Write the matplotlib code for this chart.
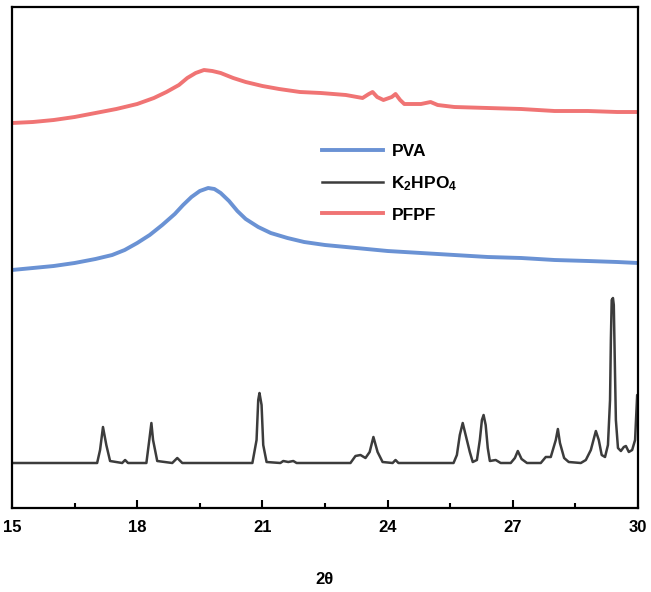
import matplotlib
matplotlib.use('Agg')
from matplotlib import pyplot as plt
from matplotlib.ticker import MultipleLocator

plt.rcParams['font.family'] = ['Liberation Sans', 'DejaVu Sans']
plt.rcParams['font.weight'] = 'bold'
plt.rcParams['mathtext.fontset'] = 'custom'
plt.rcParams['mathtext.bf'] = 'Liberation Sans:bold'
plt.rcParams['mathtext.rm'] = 'Liberation Sans:bold'
plt.rcParams['mathtext.default'] = 'bf'

# PVA (amorphous hump), 2theta vs intensity (a.u.)
pva_2theta = [15.0, 15.5, 16.0, 16.5, 17.0, 17.4, 17.7, 18.0, 18.3, 18.6,
              18.9, 19.1, 19.3, 19.5, 19.7, 19.85, 20.0, 20.2, 20.4, 20.6,
              20.9, 21.2, 21.6, 22.0, 22.5, 23.0, 23.5, 24.0, 24.8, 25.6,
              26.4, 27.2, 28.0, 28.8, 29.5, 30.0]
pva_int = [238, 240, 242, 245, 249, 253, 258, 265, 273, 283,
           294, 303, 311, 317, 320, 319, 315, 307, 297, 289,
           281, 275, 270, 266, 263, 261, 259, 257, 255, 253,
           251, 250, 248, 247, 246, 245]

# PFPF film
pfpf_2theta = [15.0, 15.5, 16.0, 16.5, 17.0, 17.5, 18.0, 18.4, 18.7, 19.0,
               19.2, 19.4, 19.6, 19.8, 20.0, 20.3, 20.6, 21.0, 21.4, 21.9,
               22.4, 23.0, 23.4, 23.55, 23.64, 23.75, 23.9, 24.1, 24.19, 24.3,
               24.4, 24.8, 25.03, 25.2, 25.6, 26.4, 27.2, 28.0, 28.8, 29.5,
               30.0]
pfpf_int = [385, 386, 388, 391, 395, 399, 404, 410, 416, 423,
            430, 435, 438, 437, 435, 430, 426, 422, 419, 416,
            415, 413, 410, 414, 416, 411, 408, 411, 414, 408,
            404, 404, 406, 403, 401, 400, 399, 397, 397, 396,
            396]

# K2HPO4 crystalline pattern
k2hpo4_2theta = [15.00, 17.04, 17.11, 17.18, 17.26, 17.35, 17.64, 17.71, 17.78,
                 18.22, 18.29, 18.34, 18.38, 18.48, 18.84, 18.96, 19.08,
                 20.76, 20.86, 20.90, 20.93, 20.98, 21.02, 21.10, 21.43, 21.50,
                 21.62, 21.74, 21.82, 23.11, 23.23, 23.35, 23.47, 23.57, 23.66,
                 23.76, 23.88, 24.12, 24.19, 24.26, 25.58, 25.66, 25.73, 25.80,
                 25.87, 25.97, 26.04, 26.14, 26.21, 26.26, 26.30, 26.35, 26.40,
                 26.45, 26.59, 26.71, 26.95, 27.05, 27.12, 27.21, 27.34, 27.67,
                 27.79, 27.91, 28.03, 28.08, 28.13, 28.23, 28.34, 28.63, 28.75,
                 28.87, 28.99, 29.06, 29.13, 29.21, 29.28, 29.33, 29.35, 29.37,
                 29.40, 29.42, 29.45, 29.47, 29.52, 29.59, 29.66, 29.71, 29.78,
                 29.86, 29.93, 29.98, 30.00]
k2hpo4_int = [45, 45, 58, 81, 63, 47, 45, 48, 45,
              45, 68, 85, 68, 47, 45, 50, 45,
              45, 68, 108, 115, 103, 63, 46, 45, 47,
              46, 47, 45, 45, 52, 53, 50, 56, 71,
              56, 46, 45, 48, 45, 45, 53, 73, 85,
              73, 56, 46, 48, 68, 88, 93, 83, 60,
              47, 48, 45, 45, 50, 57, 49, 45, 45,
              51, 51, 68, 79, 65, 50, 46, 45, 48,
              58, 77, 68, 53, 51, 63, 108, 168, 208,
              210, 203, 133, 88, 60, 57, 61, 62, 56,
              58, 68, 113, 113]

fig = plt.figure(figsize=(6.51, 5.92), dpi=100)
ax = fig.add_axes([12 / 651, 1 - 508 / 592, 626 / 651, 501 / 592])

ax.plot(pva_2theta, pva_int, color='#6a92d4', lw=2.8, label='PVA')
ax.plot(k2hpo4_2theta, k2hpo4_int, color='#3c3c3c', lw=1.8,
        label=r'K$_2$HPO$_4$')
ax.plot(pfpf_2theta, pfpf_int, color='#f07474', lw=2.8, label='PFPF')

ax.set_xlim(15, 30)
ax.set_ylim(0, 501)
ax.xaxis.set_major_locator(MultipleLocator(3))
ax.xaxis.set_minor_locator(MultipleLocator(1.5))
ax.set_yticks([])
ax.tick_params(axis='x', which='major', direction='in', length=6, width=1.5,
               labelsize=12, pad=9)
ax.tick_params(axis='x', which='minor', direction='in', length=3.5, width=1.5)
for s in ax.spines.values():
    s.set_linewidth(1.6)
ax.set_xlabel('2θ', fontsize=12, fontweight='bold', labelpad=26)

ax.legend(loc='upper left', bbox_to_anchor=(322 / 651, 1 - 144 / 592),
          bbox_transform=fig.transFigure, frameon=False, fontsize=12.5,
          handlelength=3.5, handletextpad=0.5, labelspacing=0.85,
          borderpad=0, borderaxespad=0)

fig.savefig('out.png', dpi=100)
